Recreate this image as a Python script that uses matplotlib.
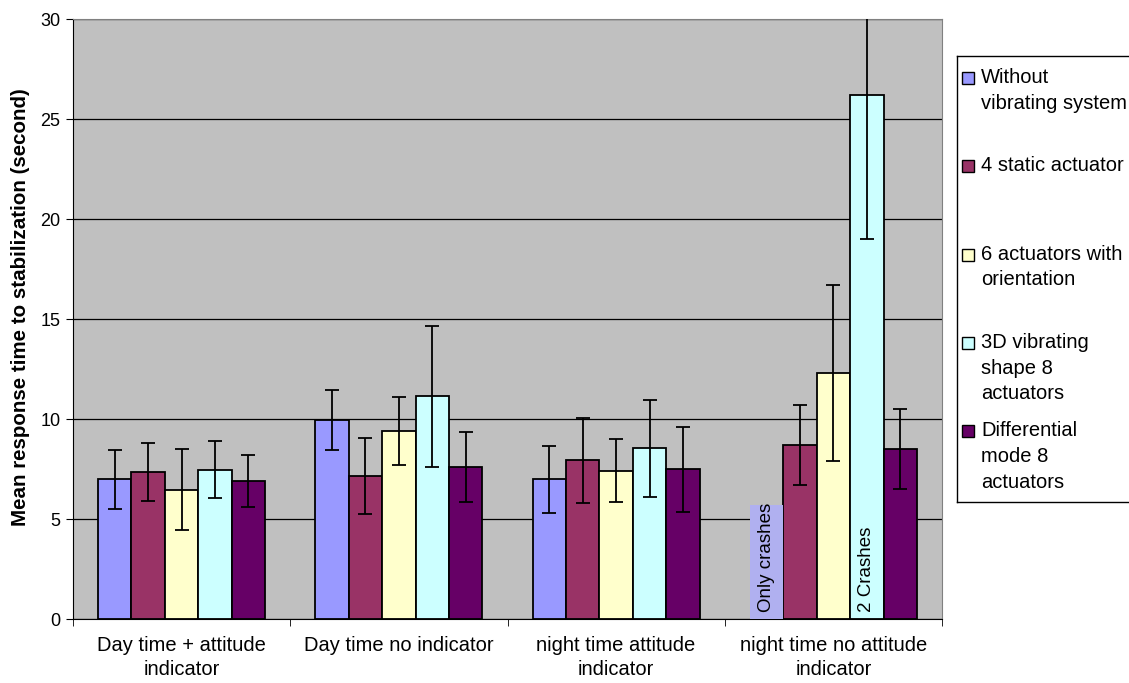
import matplotlib.pyplot as plt
import numpy as np
from matplotlib.patches import Rectangle

plt.rcParams['font.family'] = ['Liberation Sans', 'DejaVu Sans']

conditions = ["Day time + attitude\nindicator", "Day time no indicator",
              "night time attitude\nindicator", "night time no attitude\nindicator"]
series = ["Without\nvibrating system", "4 static actuator", "6 actuators with\norientation",
          "3D vibrating\nshape 8\nactuators", "Differential\nmode 8\nactuators"]
colors = ["#9999FF", "#993366", "#FFFFCC", "#CCFFFF", "#660066"]

# mean response time (s) per condition
without_vib = [6.98, 9.95, 6.98, np.nan]
static_4 = [7.35, 7.17, 7.93, 8.70]
orient_6 = [6.47, 9.40, 7.42, 12.30]
shape3d_8 = [7.46, 11.13, 8.53, 26.20]
diff_8 = [6.91, 7.62, 7.48, 8.52]

# error bar half-lengths
without_vib_err = [1.47, 1.49, 1.68, np.nan]
static_4_err = [1.43, 1.90, 2.14, 2.00]
orient_6_err = [2.01, 1.69, 1.59, 4.42]
shape3d_8_err = [1.43, 3.52, 2.43, 7.20]
diff_8_err = [1.29, 1.75, 2.11, 2.00]

values = [without_vib, static_4, orient_6, shape3d_8, diff_8]
errors = [without_vib_err, static_4_err, orient_6_err, shape3d_8_err, diff_8_err]

crash_box_top = 5.7  # height of the "Only crashes" label box

W, H = 1129, 683
fig = plt.figure(figsize=(W / 100, H / 100), dpi=100)
ax = fig.add_axes([73 / W, (H - 619) / H, (942 - 73) / W, 600 / H])
ax.set_facecolor("#C0C0C0")

x = np.arange(len(conditions))
w = 1 / 6.5
for j, (vals, errs, col) in enumerate(zip(values, errors, colors)):
    vals = np.asarray(vals, dtype=float)
    errs = np.asarray(errs, dtype=float)
    ok = ~np.isnan(vals)
    xs = x[ok] + (j - 2) * w
    ax.bar(xs, vals[ok], width=w, color=col, edgecolor="black", linewidth=1.3, zorder=2)
    ax.errorbar(xs, vals[ok], yerr=errs[ok], fmt="none", ecolor="black",
                elinewidth=1.3, capsize=5, capthick=1.3, zorder=3)

# annotations in the last group
ax.add_patch(Rectangle((x[3] - 2.5 * w, 0), w, crash_box_top, facecolor="#B0B0F0",
                       edgecolor="none", zorder=3))
ax.text(x[3] - 2 * w, 0.35, "Only crashes", rotation=90, ha="center", va="bottom",
        fontsize=13.5, zorder=4)
ax.text(x[3] + w, 0.35, "2 Crashes", rotation=90, ha="center", va="bottom",
        fontsize=13.5, zorder=4)

ax.set_xlim(-0.5, 3.5)
ax.set_ylim(0, 30)
ax.set_yticks(np.arange(0, 31, 5))
ax.yaxis.grid(True, color="black", linewidth=0.9)
ax.set_axisbelow(True)
ax.tick_params(axis="y", labelsize=13, length=5, direction="out", pad=4)

ax.set_xticks(x)
ax.set_xticklabels(conditions, fontsize=14.5, linespacing=1.36)
ax.set_xticks(np.arange(-0.5, 4, 1), minor=True)
ax.tick_params(axis="x", which="major", length=0, pad=12)
ax.tick_params(axis="x", which="minor", length=5, direction="out")

for s in ["top", "right"]:
    ax.spines[s].set_color("#808080")
for s in ["left", "bottom"]:
    ax.spines[s].set_color("black")

ax.set_ylabel("Mean response time to stabilization (second)", fontsize=14.8, fontweight="bold")
ax.yaxis.set_label_coords(-0.049, 0.52)

# legend box, drawn in pixel coordinates
lax = fig.add_axes([957 / W, (H - 502) / H, 200 / W, (502 - 56) / H])
lax.set_xlim(0, 200)
lax.set_ylim(502 - 56, 0)
lax.set_xticks([])
lax.set_yticks([])
lax.set_facecolor("white")
for s in lax.spines.values():
    s.set_color("black")
    s.set_linewidth(1.0)
for i, (lab, col) in enumerate(zip(series, colors)):
    cy = 22 + i * 88.3
    lax.add_patch(Rectangle((5, cy - 6), 12, 12, facecolor=col, edgecolor="black", linewidth=1.0))
    lax.text(24, cy - 10, lab, fontsize=14.5, va="top", ha="left", linespacing=1.45)

fig.savefig("out.png", dpi=100)
